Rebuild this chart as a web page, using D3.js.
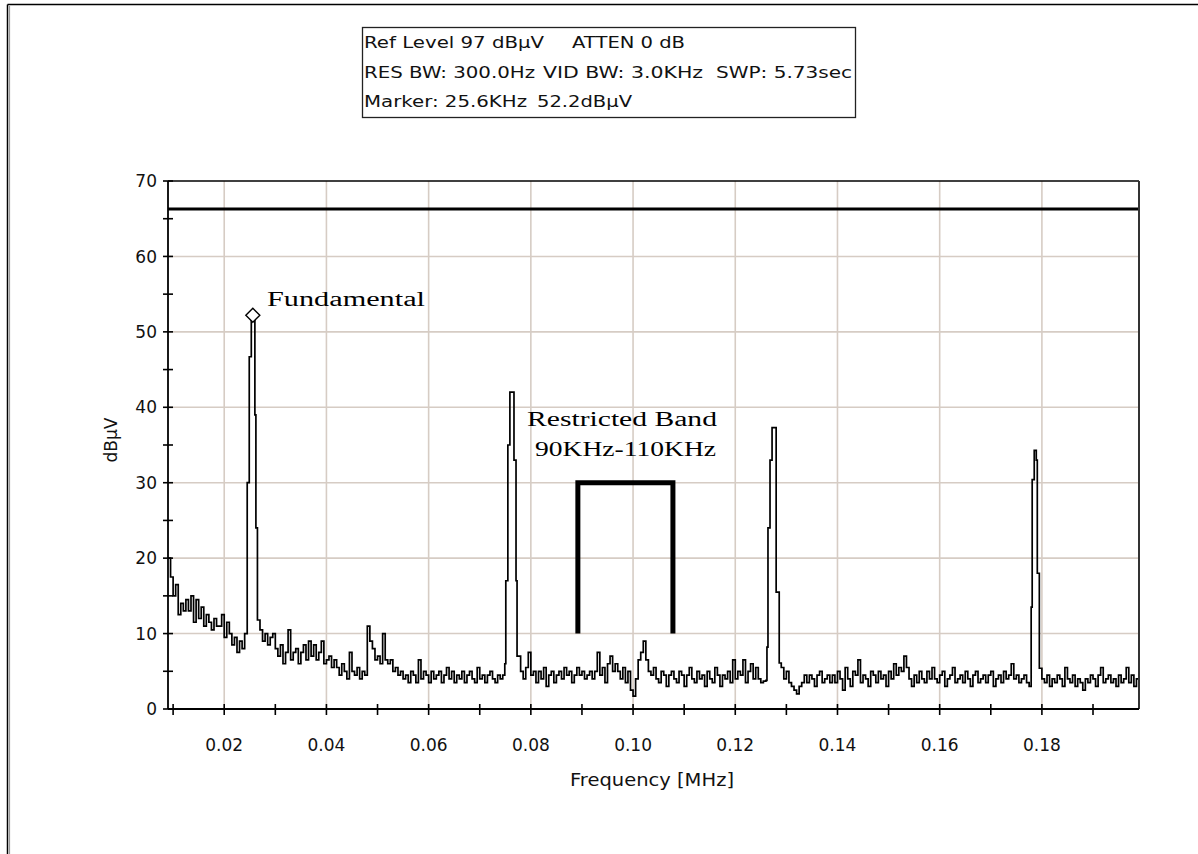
<!DOCTYPE html>
<html>
<head>
<meta charset="utf-8">
<script src="https://cdn.jsdelivr.net/npm/d3@7/dist/d3.min.js"></script>
<style>
  html, body { margin: 0; padding: 0; background: #fff; }
  svg { display: block; }
</style>
</head>
<body>
<div id="chart"></div>
<script>
// Spectrum trace: noise floor sampled every 0.5 kHz from 9 kHz, null where a peak is drawn
const noiseStart = 0.009;
const noiseStep = 0.0005;
const noiseLevels = [
  20, 17.5, 15, 16.5, 12.5, 14, 13, 14.5, 13, 15,
  11.5, 14.5, 12, 13.5, 11, 12.5, 11.5, 10.5, 12, 11,
  11, 12.5, 9.5, 11.5, 10, 8.5, 9.5, 7.5, 9, 8,
  10, null, null, null, null, null,
  10.5, 9, 10, 8.5, 9.5, 10, 8, 7, 8.5, 6,
  7.5, 10.5, 6.5, 7.5, 8, 6, 7.5, 8.5, 6.5, 9,
  7, 8.5, 6.5, 7.5, 9, 6, 6.5, 7, 5.5, 6.5,
  5.5, 4.5, 6, 5, 4, 7.5, 5, 4.5, 5.5, 4,
  5, 4.5, 11, 9, 8, 6.5, 7, 6, 10, 6.5,
  6, 6.5, 5, 5.5, 4.5, 5, 4, 4.5, 3.5, 5,
  4.5, 3.5, 6.5, 4, 5, 4.5, 3.5, 5, 4, 4.5,
  5, 3.5, 4.5, 5.5, 4, 5, 3.5, 4.5, 4, 5,
  3.5, 4.5, 5, 4, 3.5, 5.5, 4, 4.5, 3.5, 4.5,
  5, 4, 3.5, 4.5, 4, 4.5,
  null, null, null, null, null, null,
  5, 4, 5.5, 7.5, 4.5, 5, 3.5, 5,
  4, 5.5, 3, 4.5, 5, 3.5, 4.5, 5, 4, 5.5,
  4.5, 5, 3.5, 4.5, 5.5, 4.5, 5, 4, 4.5, 5,
  4, 5, 7.5, 4.5, 5.5, 3.5, 6, 7, 5, 6,
  5, 4, 5.5, 3.5, 5, 2.5, 1.7, 4, 6.5, 7.5,
  9, 6.5, 5,
  4.5, 5.5, 4, 3.5, 5, 4.5, 3, 4.5, 5, 4,
  3.5, 5, 4.5, 3, 4.5, 5.5, 4, 3.5, 5, 4,
  4.5, 3, 5, 4, 3.5, 5.5, 4.5, 3, 4.5, 4,
  5, 3.5, 6.5, 4, 5, 4.5, 6.5, 3.5, 5, 6, 4, 5.5,
  4, 3.5, 3.7, 3.8,
  null, null, null, null, null,
  5.5, 4, 5, 3.5, 3, 2.5, 2, 3, 3.5, 4.5,
  3.5, 4.5, 4, 3, 4.5, 5, 3.5, 4, 4.5, 3.5,
  4.5, 3.5, 5, 4, 2.5, 5.5, 4, 3, 5, 4.5,
  6.5, 3.5, 4.5, 4, 3, 5, 4.5, 3.5, 5, 4,
  4.5, 3, 5, 4, 6, 4.5, 5.5, 5, 7, 5.5,
  4, 3, 4.5, 3.5, 5, 4, 3.5, 5, 4, 5.5,
  4, 3.5, 4.5, 5, 3, 4, 4.5, 5.5, 3.5, 4,
  4.5, 3.5, 5, 4, 3, 4.5, 5, 3.5, 4, 4.5,
  3.5, 4.5, 5, 3, 4, 4.5, 3.5, 5, 4, 4.5,
  6, 4, 4.5, 3.5, 4, 4.5, 3.5, 3,
  null, null, null, null,
  4, 3.5, 4.5, 3, 4, 3.5, 4.5, 4, 3, 5.5,
  4, 3.5, 4.5, 3, 4, 3.5, 2.5, 4, 3.5, 4.5,
  4, 3, 4.5, 5.5, 3.5, 4, 4.5, 3.5, 4, 3,
  4.5, 3.5, 4, 5.5, 3.5, 4.5, 3, 4, 4
];

// Harmonic peaks (frequency MHz, level dBµV)
const peak1Freq = [0.0245, 0.0249, 0.0253, 0.0256, 0.0260, 0.0262, 0.0265];
const peak1Level = [30, 46.7, 51.8, 52.2, 39, 24, 11.8];
const peak2Freq = [0.0749, 0.0751, 0.0755, 0.0759, 0.0767, 0.0771, 0.0773];
const peak2Level = [6, 17, 35, 42, 33, 17, 7];
const peak3Freq = [0.1262, 0.1264, 0.1268, 0.1272, 0.1280, 0.1286];
const peak3Level = [8.2, 24, 33, 37.3, 15.5, 6.1];
const peak4Freq = [0.1779, 0.1781, 0.1785, 0.1789, 0.1791, 0.1795];
const peak4Level = [13.5, 30.4, 34.3, 33, 18, 5.4];

const markerFreq = 0.0256;
const markerLevel = 52.2;
const limitLevel = 66.3;
const band = { start: 0.0892, end: 0.1078, top: 30, bottom: 10 };

const xDomain = [0.009, 0.199];
const yDomain = [0, 70];
const xTickValues = [0.02, 0.04, 0.06, 0.08, 0.10, 0.12, 0.14, 0.16, 0.18];
const xMinorTicks = d3.range(1, 20).map(d => d / 100);
const yTickValues = [0, 10, 20, 30, 40, 50, 60, 70];
const yMinorTicks = d3.range(0, 71, 5);

const infoText = [
  { t: 'Ref Level 97 dBµV', x: 364, y: 48, w: 180 },
  { t: 'ATTEN 0 dB', x: 572, y: 48, w: 113 },
  { t: 'RES BW: 300.0Hz', x: 364, y: 78, w: 171 },
  { t: 'VID BW: 3.0KHz', x: 543, y: 78, w: 160 },
  { t: 'SWP: 5.73sec', x: 716, y: 78, w: 136 },
  { t: 'Marker: 25.6KHz', x: 364, y: 107, w: 163 },
  { t: '52.2dBµV', x: 537, y: 107, w: 95 }
];

const W = 1198, H = 854;
const margin = { top: 181, left: 168, right: 1198 - 1139, bottom: 854 - 709 };
const width = W - margin.left - margin.right;
const height = H - margin.top - margin.bottom;

const svg = d3.select('#chart').append('svg')
  .attr('width', W)
  .attr('height', H);

// panel frame (top/left edge)
svg.append('line').attr('x1', 7.5).attr('y1', 4.5).attr('x2', 7.5).attr('y2', H).attr('stroke', '#000').attr('stroke-width', 1.5);
svg.append('line').attr('x1', 9.5).attr('y1', 6).attr('x2', 9.5).attr('y2', H).attr('stroke', '#999').attr('stroke-width', 1.2);
svg.append('line').attr('x1', 7.5).attr('y1', 4.5).attr('x2', W).attr('y2', 4.5).attr('stroke', '#000').attr('stroke-width', 1.5);

// info box
svg.append('rect')
  .attr('x', 362.5).attr('y', 27.5).attr('width', 493).attr('height', 90)
  .attr('fill', '#fff').attr('stroke', '#222').attr('stroke-width', 1.3);
svg.selectAll('.info')
  .data(infoText)
  .enter()
  .append('text')
  .attr('x', d => d.x)
  .attr('y', d => d.y)
  .attr('textLength', d => d.w)
  .attr('lengthAdjust', 'spacingAndGlyphs')
  .attr('font-family', 'DejaVu Sans, sans-serif')
  .attr('font-size', '16px')
  .attr('fill', '#111')
  .text(d => d.t);

const g = svg.append('g').attr('transform', `translate(${margin.left},${margin.top})`);

const x = d3.scaleLinear().domain(xDomain).range([0, width]);
const y = d3.scaleLinear().domain(yDomain).range([height, 0]);

// grid
g.selectAll('.vgrid')
  .data(xTickValues)
  .enter()
  .append('line')
  .attr('x1', d => x(d)).attr('x2', d => x(d))
  .attr('y1', 0).attr('y2', height)
  .attr('stroke', '#d6ccc4').attr('stroke-width', 1.6);
g.selectAll('.hgrid')
  .data(yTickValues.filter(d => d > 0 && d < 70))
  .enter()
  .append('line')
  .attr('x1', 0).attr('x2', width)
  .attr('y1', d => y(d)).attr('y2', d => y(d))
  .attr('stroke', '#d6ccc4').attr('stroke-width', 1.6);

// build trace points
const points = [];
noiseLevels.forEach((v, i) => {
  if (v !== null) points.push({ f: noiseStart + i * noiseStep, v: v });
});
[[peak1Freq, peak1Level], [peak2Freq, peak2Level], [peak3Freq, peak3Level], [peak4Freq, peak4Level]]
  .forEach(([fs, vs]) => fs.forEach((f, i) => points.push({ f: f, v: vs[i] })));
points.sort((a, b) => a.f - b.f);

g.append('clipPath').attr('id', 'plotclip')
  .append('rect').attr('x', 0).attr('y', 0).attr('width', width).attr('height', height);

const line = d3.line()
  .x(d => x(d.f))
  .y(d => y(d.v))
  .curve(d3.curveStepAfter);

g.append('path')
  .datum(points)
  .attr('clip-path', 'url(#plotclip)')
  .attr('d', line)
  .attr('fill', 'none')
  .attr('stroke', '#000')
  .attr('stroke-width', 1.7);

// limit line
g.append('line')
  .attr('x1', 0).attr('x2', width)
  .attr('y1', y(limitLevel)).attr('y2', y(limitLevel))
  .attr('stroke', '#000').attr('stroke-width', 3);

// restricted band bracket
g.append('path')
  .attr('d', `M${x(band.start)},${y(band.bottom)}V${y(band.top)}H${x(band.end)}V${y(band.bottom)}`)
  .attr('fill', 'none')
  .attr('stroke', '#000')
  .attr('stroke-width', 5);

// marker diamond
const mx = x(markerFreq), my = y(markerLevel);
g.append('path')
  .attr('d', `M${mx},${my - 7}L${mx + 7},${my}L${mx},${my + 7}L${mx - 7},${my}Z`)
  .attr('fill', '#fff')
  .attr('stroke', '#000')
  .attr('stroke-width', 1.4);

// annotations
const serif = 'Liberation Serif, Times New Roman, serif';
g.append('text').attr('x', 267 - margin.left).attr('y', 306 - margin.top)
  .attr('font-family', serif).attr('font-size', '20px')
  .attr('textLength', 158).attr('lengthAdjust', 'spacingAndGlyphs')
  .text('Fundamental');
g.append('text').attr('x', 527 - margin.left).attr('y', 426 - margin.top)
  .attr('font-family', serif).attr('font-size', '20px')
  .attr('textLength', 190).attr('lengthAdjust', 'spacingAndGlyphs')
  .text('Restricted Band');
g.append('text').attr('x', 535 - margin.left).attr('y', 456 - margin.top)
  .attr('font-family', serif).attr('font-size', '20px')
  .attr('textLength', 181).attr('lengthAdjust', 'spacingAndGlyphs')
  .text('90KHz-110KHz');

// plot frame: top and right
g.append('line').attr('x1', 0).attr('x2', width).attr('y1', 0).attr('y2', 0)
  .attr('stroke', '#000').attr('stroke-width', 1.5);
g.append('line').attr('x1', width).attr('x2', width).attr('y1', 0).attr('y2', height)
  .attr('stroke', '#333').attr('stroke-width', 2);

// axes
g.append('line').attr('x1', 0).attr('x2', 0).attr('y1', 0).attr('y2', height)
  .attr('stroke', '#000').attr('stroke-width', 1.8);
g.append('line').attr('x1', 0).attr('x2', width).attr('y1', height).attr('y2', height)
  .attr('stroke', '#000').attr('stroke-width', 1.8);

g.selectAll('.ytick')
  .data(yMinorTicks)
  .enter()
  .append('line')
  .attr('x1', -5).attr('x2', 5)
  .attr('y1', d => y(d)).attr('y2', d => y(d))
  .attr('stroke', '#000').attr('stroke-width', 1.6);
g.selectAll('.xtick')
  .data(xMinorTicks)
  .enter()
  .append('line')
  .attr('x1', d => x(d)).attr('x2', d => x(d))
  .attr('y1', height - 5).attr('y2', height + 6)
  .attr('stroke', '#000').attr('stroke-width', 1.6);

g.selectAll('.ylabel')
  .data(yTickValues)
  .enter()
  .append('text')
  .attr('x', -11)
  .attr('y', d => y(d))
  .attr('dy', '0.36em')
  .attr('text-anchor', 'end')
  .attr('font-family', 'DejaVu Sans, sans-serif')
  .attr('font-size', '17px')
  .attr('fill', '#111')
  .text(d => d);

g.selectAll('.xlabel')
  .data(xTickValues)
  .enter()
  .append('text')
  .attr('x', d => x(d))
  .attr('y', height + 42)
  .attr('text-anchor', 'middle')
  .attr('font-family', 'DejaVu Sans, sans-serif')
  .attr('font-size', '17px')
  .attr('fill', '#111')
  .text(d => d.toFixed(2));

svg.append('text')
  .attr('x', 570).attr('y', 786)
  .attr('textLength', 164).attr('lengthAdjust', 'spacingAndGlyphs')
  .attr('font-family', 'DejaVu Sans, sans-serif')
  .attr('font-size', '17px')
  .attr('fill', '#111')
  .text('Frequency [MHz]');

svg.append('text')
  .attr('transform', 'translate(117,440) rotate(-90)')
  .attr('text-anchor', 'middle')
  .attr('font-family', 'DejaVu Sans, sans-serif')
  .attr('font-size', '17px')
  .attr('fill', '#111')
  .text('dBµV');
</script>
</body>
</html>
